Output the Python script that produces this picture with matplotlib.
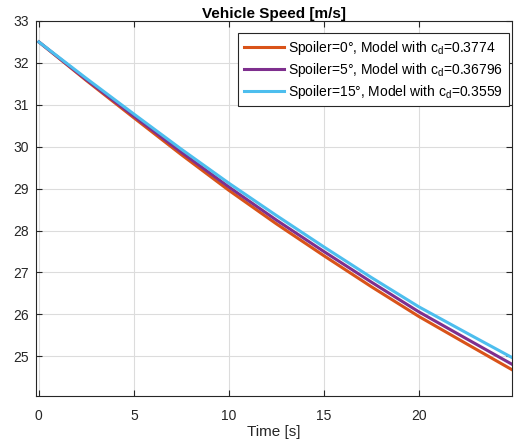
import numpy as np
import matplotlib
matplotlib.use("Agg")
import matplotlib.pyplot as plt

plt.rcParams['font.family'] = ['Liberation Sans', 'DejaVu Sans']
plt.rcParams['mathtext.fontset'] = 'custom'
plt.rcParams['mathtext.rm'] = 'Liberation Sans'
plt.rcParams['mathtext.it'] = 'Liberation Sans:italic'

# time [s] and speed [m/s]
t = [0, 2.5, 5, 7.5, 10, 12.5, 15, 17.5, 20, 22.5, 24.9]
v_sp0 = [32.5, 31.58, 30.69, 29.81, 28.96, 28.16, 27.40, 26.66, 25.95, 25.30, 24.68]
v_sp5 = [32.5, 31.60, 30.73, 29.87, 29.04, 28.25, 27.50, 26.77, 26.06, 25.42, 24.81]
v_sp15 = [32.5, 31.63, 30.78, 29.94, 29.13, 28.36, 27.61, 26.88, 26.18, 25.56, 24.97]
labels = [r'Spoiler=0°, Model with c$_\mathrm{d}$=0.3774',
          r'Spoiler=5°, Model with c$_\mathrm{d}$=0.36796',
          r'Spoiler=15°, Model with c$_\mathrm{d}$=0.3559']
colors = ['#D95319', '#7E2F8E', '#4DBEEE']

fig = plt.figure(figsize=(5.16, 4.43), dpi=100)
ax = fig.add_axes([0.0698, 0.106, 0.9222, 0.8466])

for v, lab, c in zip([v_sp0, v_sp5, v_sp15], labels, colors):
    ax.plot(t, v, color=c, lw=2.2, label=lab)

ax.set_xlim(-0.15, 24.9)
ax.set_ylim(24.05, 33)
ax.set_xticks([0, 5, 10, 15, 20])
ax.set_yticks(range(25, 34))
ax.grid(True, color='#dcdcdc', lw=0.8)
ax.set_axisbelow(True)
ax.tick_params(direction='in', top=True, right=True, labelsize=10,
               colors='#262626', length=4, width=0.8, pad=5)
ax.tick_params(axis='x', pad=9)
for s in ax.spines.values():
    s.set_color('#262626')
    s.set_linewidth(0.8)

ax.set_title('Vehicle Speed [m/s]', fontsize=11, fontweight='bold', pad=2)
ax.set_xlabel('Time [s]', fontsize=11, color='#262626', labelpad=2)

leg = ax.legend(loc='upper right', bbox_to_anchor=(0.9937, 0.968),
                borderaxespad=0, fontsize=10, fancybox=False, framealpha=1,
                edgecolor='#262626', handlelength=2.9, handletextpad=0.3,
                labelspacing=0.3, borderpad=0.4)
leg.get_frame().set_linewidth(0.8)

fig.savefig('out.png', dpi=100)
